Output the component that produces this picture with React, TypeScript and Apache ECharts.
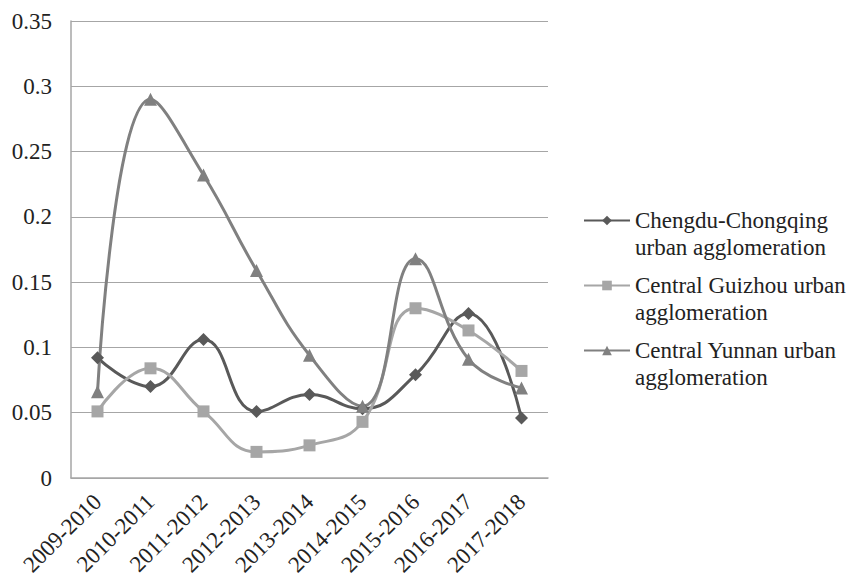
import React, { useEffect, useRef } from "react";
import * as echarts from "echarts";

const categories = ["2009-2010", "2010-2011", "2011-2012", "2012-2013", "2013-2014", "2014-2015", "2015-2016", "2016-2017", "2017-2018"];
const chengduChongqing = [0.092, 0.070, 0.106, 0.051, 0.064, 0.053, 0.079, 0.126, 0.046];
const centralGuizhou = [0.051, 0.084, 0.051, 0.020, 0.025, 0.043, 0.130, 0.113, 0.082];
const centralYunnan = [0.066, 0.290, 0.232, 0.159, 0.094, 0.055, 0.168, 0.091, 0.069];
const yTickLabels = ["0", "0.05", "0.1", "0.15", "0.2", "0.25", "0.3", "0.35"];
const seriesNames = ["Chengdu-Chongqing urban agglomeration", "Central Guizhou urban agglomeration", "Central Yunnan urban agglomeration"];
const legendLabels = ["Chengdu-Chongqing\nurban agglomeration", "Central Guizhou urban\nagglomeration", "Central Yunnan urban\nagglomeration"];

const FONT = "Liberation Serif, serif";

export default function App() {
  const ref = useRef<HTMLDivElement>(null);
  useEffect(() => {
    if (!ref.current) return;
    const chart = echarts.init(ref.current, undefined, { renderer: "svg" });
    const mk = (name: string, data: number[], color: string, symbol: string, size: number) => ({
      name,
      type: "line",
      data,
      smooth: 0.45,
      symbol,
      symbolSize: size,
      lineStyle: { color, width: 3 },
      itemStyle: { color },
      z: 2,
    });
    chart.setOption({
      animation: false,
      backgroundColor: "#ffffff",
      textStyle: { fontFamily: FONT },
      grid: { left: 71, top: 21, right: 308, bottom: 103, containLabel: false },
      xAxis: {
        type: "category",
        data: categories,
        boundaryGap: true,
        axisLine: { show: true, lineStyle: { color: "#a6a6a6", width: 1.5 } },
        axisTick: { show: false },
        axisLabel: { rotate: 45, color: "#222222", fontSize: 23, fontFamily: FONT, margin: 20, interval: 0 },
        splitLine: { show: false },
      },
      yAxis: {
        type: "value",
        min: 0,
        max: 0.35,
        interval: 0.05,
        axisLine: { show: true, lineStyle: { color: "#a6a6a6", width: 1.5 } },
        axisTick: { show: false },
        axisLabel: {
          color: "#222222",
          fontSize: 23,
          fontFamily: FONT,
          margin: 19,
          formatter: (v: number) => yTickLabels[Math.round(v / 0.05)] ?? String(v),
        },
        splitLine: { show: true, lineStyle: { color: "#a6a6a6", width: 1.2 } },
      },
      legend: {
        orient: "vertical",
        left: 583,
        top: 180,
        padding: 0,
        itemGap: -16,
        itemWidth: 46,
        itemHeight: 12,
        data: seriesNames,
        formatter: (n: string) => "\n" + (legendLabels[seriesNames.indexOf(n)] || n),
        textStyle: { color: "#222222", fontSize: 23, fontFamily: FONT, lineHeight: 27 },
      },
      series: [
        mk(seriesNames[0], chengduChongqing, "#595959", "diamond", 13),
        mk(seriesNames[1], centralGuizhou, "#a6a6a6", "rect", 12),
        mk(seriesNames[2], centralYunnan, "#808080", "triangle", 13),
      ],
    });
    return () => chart.dispose();
  }, []);
  return <div ref={ref} style={{ width: 856, height: 581, position: "absolute", left: 0, top: 0 }} />;
}
